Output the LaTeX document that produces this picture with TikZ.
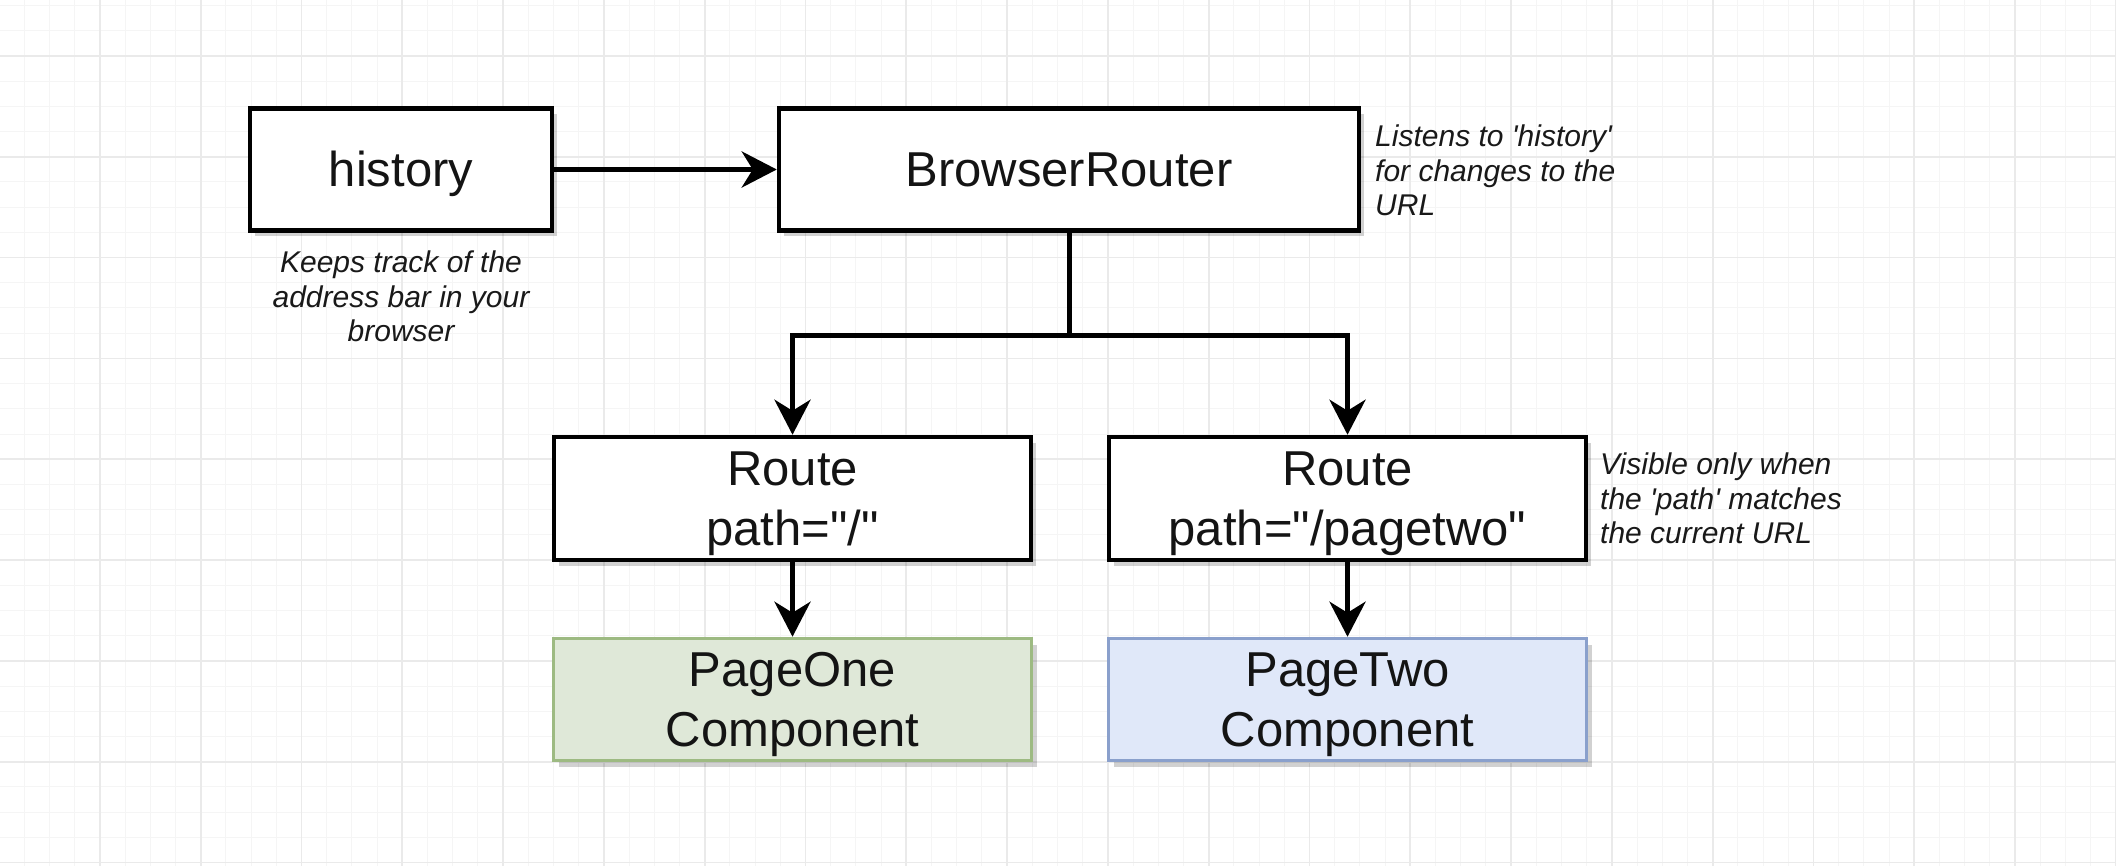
\documentclass[tikz,border=0pt]{standalone}
\usepackage{fontspec}
\setmainfont{Liberation Sans}[Ligatures=TeXOff]
\usetikzlibrary{arrows.meta,shadows}
\definecolor{gridminor}{HTML}{F5F5F5}
\definecolor{gridmajor}{HTML}{EAEAEA}
\definecolor{greenfill}{HTML}{DFE8D8}
\definecolor{greenline}{HTML}{9DBA82}
\definecolor{bluefill}{HTML}{E0E8F9}
\definecolor{blueline}{HTML}{8AA0CC}
\newcommand{\bxstrut}{\rule[-10pt]{0pt}{55pt}}
\begin{document}
\begin{tikzpicture}[x=1pt,y=-1pt,
  boxbase/.style={line width=4.5pt, inner sep=0pt, align=center,
    font=\fontsize{49}{60}\selectfont, text=black!92,
    drop shadow={shadow xshift=5pt, shadow yshift=-6pt, fill=black, opacity=0.18}},
  plainbox/.style={boxbase, draw=black, fill=white, minimum width=#1, minimum height=122pt},
  greenbox/.style={boxbase, line width=3.5pt, draw=greenline, fill=greenfill, minimum width=#1, minimum height=122pt},
  bluebox/.style={boxbase, line width=3.5pt, draw=blueline, fill=bluefill, minimum width=#1, minimum height=122pt},
  caption/.style={inner sep=0pt, font=\fontsize{30}{34.5}\selectfont\itshape, text=black!90},
  conn/.style={line width=5pt, -{Stealth[length=35pt,width=36pt,inset=11pt]}},
  link/.style={line width=5pt},
  minorline/.style={gridminor, line width=1pt},
  majorline/.style={gridmajor, line width=1.8pt}]
\fill[white] (0,0) rectangle (2116,866);
\useasboundingbox (0,0) rectangle (2116,866);
% grid
\foreach \i in {0,...,84} \draw[minorline] ({-1+25.2*\i},0) -- ({-1+25.2*\i},866);
\foreach \i in {0,...,35} \draw[minorline] (0,{5.6+25.2*\i}) -- (2116,{5.6+25.2*\i});
\foreach \i in {0,...,21} \draw[majorline] ({-1+100.8*\i},0) -- ({-1+100.8*\i},866);
\foreach \i in {0,...,8} \draw[majorline] (0,{56+100.8*\i}) -- (2116,{56+100.8*\i});
% nodes
\node[plainbox=302pt] (hist) at (401,169.5) {\bxstrut history};
\node[plainbox=580pt] (br) at (1069,169.5) {\bxstrut BrowserRouter};
\node[plainbox=477pt, minimum height=123pt] (r1) at (792.5,498.5) {\bxstrut Route\\path="/"};
\node[plainbox=477pt, minimum height=123pt] (r2) at (1347.5,498.5) {\bxstrut Route\\path="/pagetwo"};
\node[greenbox=478pt] (p1) at (792.5,699.5) {\bxstrut PageOne\\Component};
\node[bluebox=478pt] (p2) at (1347.5,699.5) {\bxstrut PageTwo\\Component};
% captions
\node[caption, anchor=north, align=center] (c1) at (401,251) {Keeps track of the\\address bar in your\\browser};
\node[caption, anchor=north west, align=left] (c2) at (1375,125) {Listens to 'history'\\for changes to the\\URL};
\node[caption, anchor=north west, align=left] (c3) at (1600,453) {Visible only when\\the 'path' matches\\the current URL};
% connectors
\coordinate (split) at (1069,335);
\draw[conn] (hist.east) -- (br.west);
\draw[link] (br.south) -- (split);
\draw[conn] (split) -| (r1.north);
\draw[conn] (split) -| (r2.north);
\draw[conn] (r1.south) -- (p1.north);
\draw[conn] (r2.south) -- (p2.north);
\end{tikzpicture}
\end{document}
